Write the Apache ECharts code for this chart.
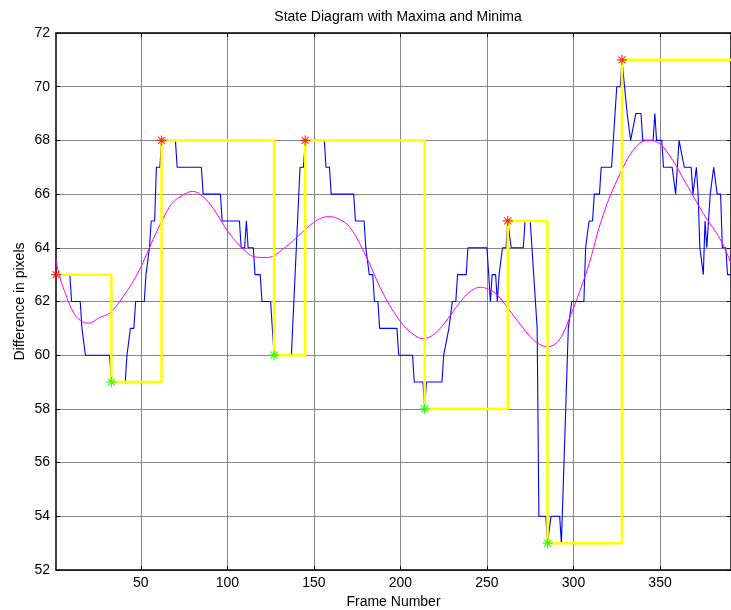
<!DOCTYPE html>
<html>
<head>
<meta charset="utf-8">
<title>State Diagram with Maxima and Minima</title>
<script src="https://cdn.jsdelivr.net/npm/echarts@6/dist/echarts.min.js"></script>
<style>
  html, body { margin: 0; padding: 0; background: #fff; }
  #chart { width: 731px; height: 610px; }
</style>
</head>
<body>
<div id="chart"></div>
<script>
// blue trace: [frame, pixels] at every corner of the step curve
const blueData = [
  [1, 63], [9, 63], [10, 62], [15, 62], [16, 61], [17, 61], [18, 60], [32, 60], [33, 59],
  [41, 59], [42, 60], [43, 60], [44, 61], [46, 61], [47, 62], [52, 62], [53, 63], [54, 63],
  [55, 64], [56, 65], [58, 65], [59, 67], [61, 67], [62, 68], [70, 68], [71, 67], [85, 67],
  [86, 66], [96, 66], [97, 65], [107, 65], [108, 64], [110, 64], [111, 65], [112, 64], [115, 64],
  [116, 63], [119, 63], [120, 62], [125, 62], [127, 60], [137, 60], [142, 67], [144, 67], [145, 68],
  [156, 68], [157, 67], [159, 67], [160, 66], [173, 66], [174, 65], [179, 65], [180, 64], [181, 64],
  [182, 63], [184, 63], [185, 62], [187, 62], [188, 61], [198, 61], [199, 60], [207, 60], [208, 59],
  [213, 59], [214, 58], [215, 59], [224, 59], [225, 60], [226, 60], [228, 61], [229, 61], [230, 62],
  [232, 62], [233, 63], [238, 63], [239, 64], [250, 64], [252, 62], [253, 63], [255, 63], [256, 62],
  [257, 63], [259, 64], [261, 64], [262, 65], [263, 65], [264, 64], [271, 64], [272, 65], [275, 65],
  [279, 61], [280, 54], [284, 54], [285, 53], [287, 54], [292, 54], [293, 53], [294, 53], [297, 61],
  [299, 62], [306, 62], [307, 64], [308, 64], [309, 65], [311, 65], [312, 66], [315, 66], [316, 67],
  [322, 67], [324, 69], [325, 70], [327, 70], [328, 71], [331, 69], [332, 69], [333, 68], [334, 68],
  [336, 69], [339, 69], [340, 68], [346, 68], [347, 69], [348, 68], [351, 68], [352, 67], [357, 67],
  [359, 66], [360, 67], [361, 68], [362, 68], [364, 67], [368, 67], [369, 66], [371, 67], [372, 66],
  [373, 64], [375, 63], [376, 65], [377, 64], [379, 66], [381, 67], [383, 66], [385, 66], [386, 64],
  [388, 64], [389, 63], [391, 63]
]

const fitData = [
  [1, 63.55], [3, 62.95], [7, 62.2], [11, 61.6], [15, 61.3], [20, 61.19], [26, 61.4], [32, 61.57],
  [40, 62.2], [49, 63.15], [57, 64.3], [63, 65.1], [68, 65.65], [74, 65.95], [80, 66.1], [86, 65.9],
  [92, 65.45], [101, 64.55], [111, 63.85], [117, 63.65], [123, 63.64], [134, 64.05], [142, 64.5],
  [148, 64.85], [154, 65.1], [159, 65.16], [165, 65.05], [171, 64.75], [180, 63.7], [190, 62.3],
  [200, 61.25], [207, 60.8], [213, 60.62], [218, 60.72], [223, 61.0], [229, 61.5], [236, 62.1],
  [241, 62.4], [246, 62.53], [251, 62.45], [256, 62.24], [265, 61.5], [275, 60.69], [280, 60.42],
  [285, 60.32], [290, 60.45], [294, 60.82], [298, 61.43], [304, 62.45], [309, 63.4], [317, 65.2],
  [327, 66.77], [336, 67.76], [343, 68.0], [348, 67.95], [356, 67.39], [365, 66.4], [375, 65.28],
  [385, 64.29], [391, 63.42]
]

// yellow state line
const stateFrames = [1, 33, 62, 127, 145, 214, 262, 285, 328, 391]
const stateValues = [63, 59, 68, 60, 68, 58, 65, 53, 71, 71]

// extrema markers
const maxFrames = [1, 62, 145, 262, 328]
const maxValues = [63, 68, 68, 65, 71]
const minFrames = [33, 127, 214, 285]
const minValues = [59, 60, 58, 53]

const xTicks = [50, 100, 150, 200, 250, 300, 350]

const star = 'path://M5,0L5,10M0,5L10,5M1.5,1.5L8.5,8.5M1.5,8.5L8.5,1.5'
const font = 'Liberation Sans'

const chart = echarts.init(document.getElementById('chart'), null, { renderer: 'canvas' })

const frameAxis = {
  type: 'value',
  min: 1,
  max: 391,
  axisLine: { show: true, onZero: false, lineStyle: { color: '#000', width: 1.5 } },
  axisTick: { show: true, inside: true, length: 4, customValues: xTicks, lineStyle: { color: '#000' } }
}
const pixelAxis = {
  type: 'value',
  min: 52,
  max: 72,
  interval: 2,
  axisLine: { show: true, onZero: false, lineStyle: { color: '#000', width: 1.5 } },
  axisTick: { show: true, inside: true, length: 4, lineStyle: { color: '#000' } }
}

chart.setOption({
  animation: false,
  backgroundColor: '#fff',
  title: {
    text: 'State Diagram with Maxima and Minima',
    left: 393,
    top: 5,
    textAlign: 'center',
    textStyle: { color: '#000', fontSize: 14, fontWeight: 'normal', fontFamily: font }
  },
  // fixed plot box, no auto shrinking for labels
  grid: { left: 56, right: 0, top: 33, bottom: 40, outerBoundsMode: 'none' },
  xAxis: [
    Object.assign({}, frameAxis, {
      position: 'bottom',
      name: 'Frame Number',
      nameLocation: 'middle',
      nameGap: 24,
      nameTextStyle: { color: '#000', fontSize: 14, fontFamily: font },
      axisLabel: { customValues: xTicks, color: '#000', fontSize: 14, fontFamily: font, margin: 6 },
      splitLine: { show: true, lineStyle: { color: '#868686', width: 1 } }
    }),
    Object.assign({}, frameAxis, {
      position: 'top',
      axisLabel: { show: false },
      splitLine: { show: false }
    })
  ],
  yAxis: [
    Object.assign({}, pixelAxis, {
      position: 'left',
      name: 'Difference in pixels',
      nameLocation: 'middle',
      nameGap: 29,
      nameMoveOverlap: false,
      nameTextStyle: { color: '#000', fontSize: 14, fontFamily: font },
      axisLabel: { color: '#000', fontSize: 14, fontFamily: font, margin: 6 },
      splitLine: { show: true, lineStyle: { color: '#868686', width: 1 } }
    }),
    Object.assign({}, pixelAxis, {
      position: 'right',
      axisLabel: { show: false },
      splitLine: { show: false }
    })
  ],
  series: [
    {
      name: 'difference',
      type: 'line',
      data: blueData,
      showSymbol: false,
      lineStyle: { color: '#0000ff', width: 1.1 },
      z: 2
    },
    {
      name: 'fit',
      type: 'line',
      data: fitData,
      smooth: 0.4,
      showSymbol: false,
      lineStyle: { color: '#ff00ff', width: 1 },
      z: 3
    },
    {
      name: 'state',
      type: 'line',
      step: 'end',
      data: stateFrames.map((f, i) => [f, stateValues[i]]),
      showSymbol: false,
      lineStyle: { color: '#ffff00', width: 2.5 },
      z: 4
    },
    {
      name: 'maxima',
      type: 'scatter',
      data: maxFrames.map((f, i) => [f, maxValues[i]]),
      symbol: star,
      symbolSize: 10,
      itemStyle: { color: '#ff0000', borderColor: '#ff0000', borderWidth: 1.2 },
      z: 5
    },
    {
      name: 'minima',
      type: 'scatter',
      data: minFrames.map((f, i) => [f, minValues[i]]),
      symbol: star,
      symbolSize: 10,
      itemStyle: { color: '#00ff00', borderColor: '#00ff00', borderWidth: 1.2 },
      z: 5
    }
  ]
})
</script>
</body>
</html>
